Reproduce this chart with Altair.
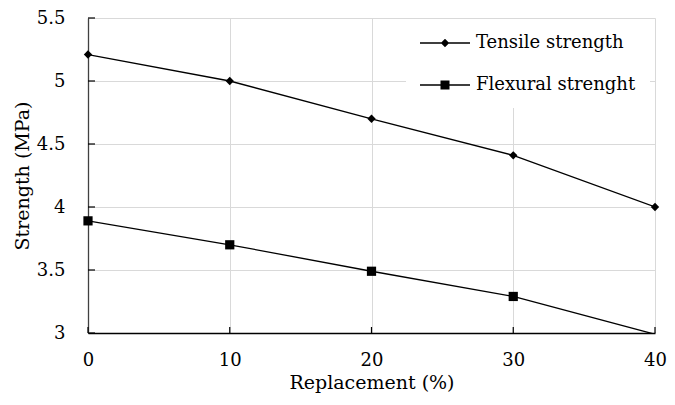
import altair as alt
import pandas as pd

replacement = [0, 10, 20, 30, 40]
tensile = [5.21, 5.00, 4.70, 4.41, 4.00]
flexural = [3.89, 3.70, 3.49, 3.29, 2.99]
series_names = ["Tensile strength", "Flexural strenght"]
y_ticks = [3, 3.5, 4, 4.5, 5, 5.5]
x_ticks = [0, 10, 20, 30, 40]

rows = []
for i, xv in enumerate(replacement):
    rows.append({"Replacement": xv, "Strength": tensile[i], "Series": series_names[0]})
    rows.append({"Replacement": xv, "Strength": flexural[i], "Series": series_names[1]})
df = pd.DataFrame(rows)
df_yt = pd.DataFrame({"Strength": y_ticks})
df_xt = pd.DataFrame({"Replacement": x_ticks})

FONT = "DejaVu Serif"
W, H = 567, 315
xscale = alt.Scale(domain=[0, 40], nice=False, zero=False)
yscale = alt.Scale(domain=[3, 5.5], nice=False, zero=False)

x_main = alt.X("Replacement:Q", scale=xscale, axis=alt.Axis(
    orient="bottom", values=x_ticks, title="Replacement (%)", grid=True, gridColor="#d9d9d9",
    domainColor="black", domainWidth=1.3, ticks=False, labelPadding=18, labelFlush=False,
    labelFont=FONT, labelFontSize=18, labelColor="black",
    titleFont=FONT, titleFontSize=19, titleFontWeight="normal", titleColor="black",
    titleX=W / 2, titleY=49, titleBaseline="middle", titleAnchor="middle"))
y_main = alt.Y("Strength:Q", scale=yscale, axis=alt.Axis(
    orient="left", values=y_ticks, format="~g", title="Strength (MPa)", grid=True, gridColor="#d9d9d9",
    domainColor="#404040", domainWidth=1.3, ticks=False, labelPadding=23, labelFlush=False,
    labelFont=FONT, labelFontSize=18, labelColor="black",
    titleFont=FONT, titleFontSize=19, titleFontWeight="normal", titleColor="black",
    titleX=-66, titleY=H / 2, titleBaseline="middle", titleAnchor="middle", titleAngle=-90))

lines = alt.Chart(df).mark_line(color="black", strokeWidth=1.3, clip=True).encode(
    x=x_main, y=y_main, detail="Series:N")

points = alt.Chart(df).transform_filter("datum.Strength >= 3").mark_point(
    filled=True, color="black", opacity=1).encode(
    x=alt.X("Replacement:Q", scale=xscale, axis=None),
    y=alt.Y("Strength:Q", scale=yscale, axis=None),
    shape=alt.Shape("Series:N", scale=alt.Scale(domain=series_names, range=["diamond", "square"]), legend=None),
    size=alt.Size("Series:O", scale=alt.Scale(domain=series_names, range=[70, 85]), legend=None))

# inward tick marks on both axes
y_tick_rules = alt.Chart(df_yt).mark_rule(color="black", strokeWidth=1.2).encode(
    y=alt.Y("Strength:Q", scale=yscale, axis=None), x=alt.value(0), x2=alt.value(7))
x_tick_rules = alt.Chart(df_xt).mark_rule(color="black", strokeWidth=1.2).encode(
    x=alt.X("Replacement:Q", scale=xscale, axis=None), y=alt.value(H), y2=alt.value(H - 6))

path_t = "M-1,-0.065H4V0.065H-1ZM1.5,-0.42L1.92,0L1.5,0.42L1.08,0Z"
path_f = "M-1,-0.065H4V0.065H-1ZM1.05,-0.45H1.95V0.45H1.05Z"

legend_layer = alt.Chart(df).mark_point(
    filled=True, color="black", opacity=0, size=400).encode(
    x=alt.X("Replacement:Q", scale=xscale, axis=None),
    y=alt.Y("Strength:Q", scale=yscale, axis=None),
    shape=alt.Shape("Series:N", scale=alt.Scale(domain=series_names, range=[path_t, path_f]),
                    legend=alt.Legend(
                        orient="none", legendX=318, legendY=1, title=None,
                        labelFont=FONT, labelFontSize=18, labelColor="black",
                        symbolSize=400, symbolFillColor="black", symbolStrokeWidth=0,
                        symbolOpacity=1, labelOffset=36,
                        rowPadding=23, padding=14, fillColor="white")))

chart = alt.layer(lines, y_tick_rules, x_tick_rules, points, legend_layer).resolve_scale(
    shape="independent", size="independent").resolve_axis(
    x="independent", y="independent").properties(
    width=W, height=H,
    autosize=alt.AutoSizeParams(type="none"),
    padding={"left": 80, "top": 10, "right": 12, "bottom": 64},
    background="white").configure_view(stroke=None)

chart.save("out.html", embed_options={"renderer": "svg", "actions": False})
